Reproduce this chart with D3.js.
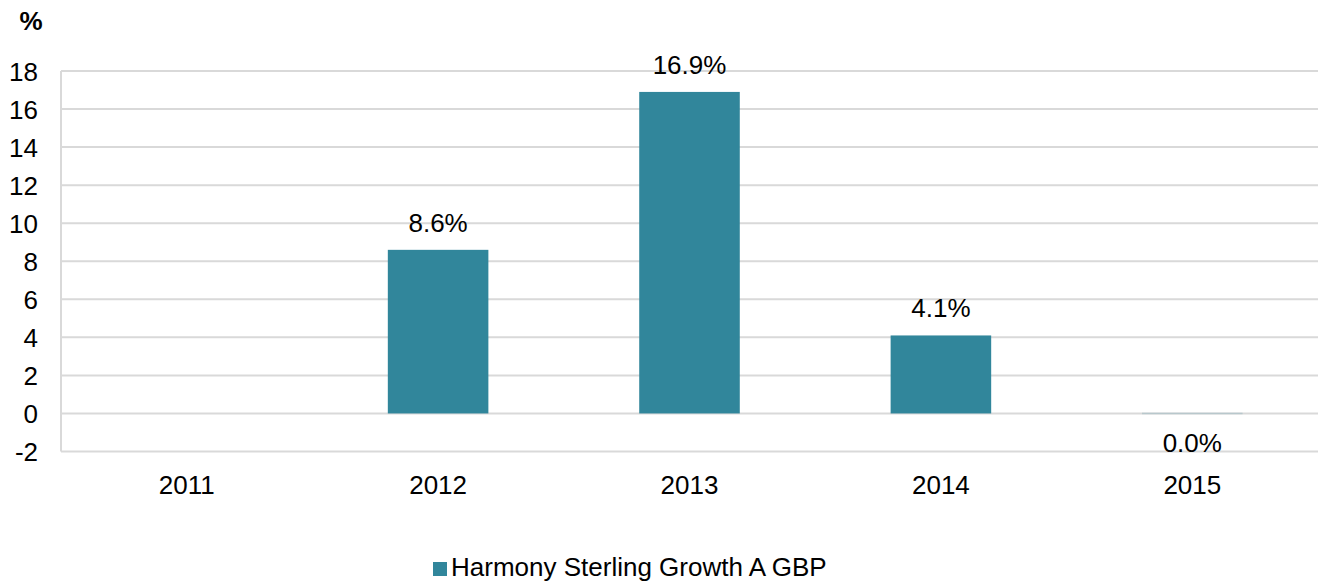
<!DOCTYPE html>
<html><head><meta charset="utf-8">
<script src="https://cdn.jsdelivr.net/npm/d3@7"></script>
<style>body{margin:0;background:#fff}svg{display:block;font-family:"Liberation Sans",Arial,sans-serif}</style>
</head><body><svg id="c" width="1328" height="582"></svg>
<script>
const categories = ["2011","2012","2013","2014","2015"];
const values = [null, 8.6, 16.9, 4.1, 0.0];
const labels = [null, "8.6%", "16.9%", "4.1%", "0.0%"];
const yTicks = [-2,0,2,4,6,8,10,12,14,16,18];
const seriesName = "Harmony Sterling Growth A GBP";

const FS = 26;
const svg = d3.select("#c");
const L = 61, R = 1318, T = 71, B = 451.5;
const y = d3.scaleLinear().domain([-2, 18]).range([B, T]);
const band = d3.scaleBand().domain(categories).range([L, R]);

// grid
svg.append("g").selectAll("line").data(yTicks).join("line")
  .attr("x1", L).attr("x2", R).attr("y1", d => y(d)).attr("y2", d => y(d))
  .attr("stroke", "#d9d9d9").attr("stroke-width", 2);
svg.append("line").attr("x1", L).attr("x2", L).attr("y1", T).attr("y2", B)
  .attr("stroke", "#d9d9d9").attr("stroke-width", 2);

// y axis labels
const yAxis = d3.axisLeft(y).tickValues(yTicks).tickSize(0).tickPadding(0).tickFormat(d => String(d));
const gy = svg.append("g").attr("transform", `translate(${38},0)`).call(yAxis);
gy.select(".domain").remove();
gy.selectAll("text").attr("font-size", FS).attr("fill", "#000").attr("font-family", "Liberation Sans, Arial, sans-serif").attr("dy", "0.35em");

svg.append("text").attr("x", 31).attr("y", 30).attr("text-anchor", "middle")
  .attr("font-size", FS).attr("font-weight", "bold").text("%");

// x labels
const xAxis = d3.axisBottom(band).tickSize(0).tickPadding(0);
const gx = svg.append("g").attr("transform", `translate(0,${476})`).call(xAxis);
gx.select(".domain").remove();
gx.selectAll("text").attr("font-size", FS).attr("fill", "#000").attr("font-family", "Liberation Sans, Arial, sans-serif");

const data = categories.map((c, i) => ({c, v: values[i], l: labels[i]})).filter(d => d.v !== null);
const bw = band.bandwidth() / 2.5;

svg.append("g").selectAll("rect").data(data).join("rect")
  .attr("x", d => band(d.c) + band.bandwidth()/2 - bw/2)
  .attr("width", bw)
  .attr("y", d => d.v > 0 ? y(d.v) : y(0) - 0.75)
  .attr("height", d => d.v > 0 ? y(0) - y(d.v) : 1.5)
  .attr("fill", d => d.v > 0 ? "#31869b" : "#b8c8cc");

svg.append("g").selectAll("text").data(data).join("text")
  .attr("x", d => band(d.c) + band.bandwidth()/2)
  .attr("y", d => d.v > 0 ? y(d.v) - 18 : y(0) + 38.5)
  .attr("text-anchor", "middle").attr("font-size", FS).attr("fill", "#000")
  .text(d => d.l);

// legend
const lg = svg.append("g");
lg.append("rect").attr("x", 433).attr("y", 562).attr("width", 14).attr("height", 14).attr("fill", "#31869b");
lg.append("text").attr("x", 451).attr("y", 576).attr("font-size", FS).attr("fill", "#000").text(seriesName);
</script></body></html>
